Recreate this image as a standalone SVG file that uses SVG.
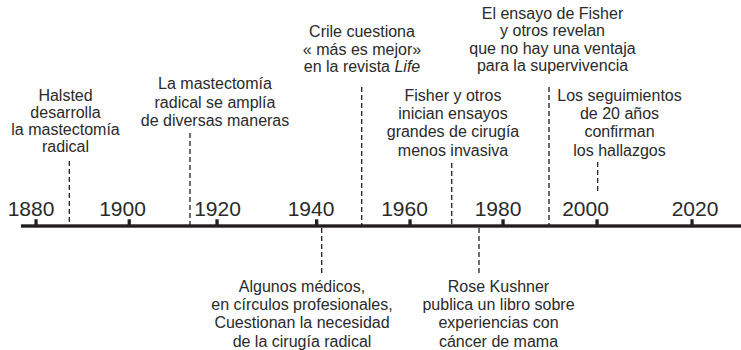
<svg xmlns="http://www.w3.org/2000/svg" width="741" height="350" viewBox="0 0 741 350">
<style>
  .lbl { font-family: "Liberation Sans", Arial, sans-serif; font-size: 16px; fill: #2a2a2a; text-anchor: middle; }
  .yr { font-family: "Liberation Sans", Arial, sans-serif; font-size: 21px; fill: #2a2a2a; text-anchor: middle; }
  .dash { stroke: #231f20; stroke-width: 1.3; stroke-dasharray: 5 3; fill: none; }
  .tick { fill: #231f20; }
</style>
<rect width="741" height="350" fill="#ffffff"/>

<g id="axis">
  <rect x="21" y="224.3" width="720" height="3.4" fill="#231f20"/>
  <rect class="tick" x="34.4" y="219.3" width="3.3" height="6"/>
  <rect class="tick" x="127.6" y="219.3" width="3.3" height="6"/>
  <rect class="tick" x="215.4" y="219.3" width="3.3" height="6"/>
  <rect class="tick" x="315" y="219.3" width="3.3" height="6"/>
  <rect class="tick" x="408.4" y="219.3" width="3.3" height="6"/>
  <rect class="tick" x="501.4" y="219.3" width="3.3" height="6"/>
  <rect class="tick" x="595.4" y="219.3" width="3.3" height="6"/>
  <rect class="tick" x="690.4" y="219.3" width="3.3" height="6"/>
  <text class="yr" x="31" y="216">1880</text>
  <text class="yr" x="122.5" y="216">1900</text>
  <text class="yr" x="217.5" y="216">1920</text>
  <text class="yr" x="311" y="216">1940</text>
  <text class="yr" x="404.5" y="216">1960</text>
  <text class="yr" x="498" y="216">1980</text>
  <text class="yr" x="585.5" y="216">2000</text>
  <text class="yr" x="695" y="216">2020</text>
</g>

<g id="connectors">
  <line class="dash" x1="69.3" y1="161" x2="69.3" y2="225"/>
  <line class="dash" x1="190" y1="133" x2="190" y2="225"/>
  <line class="dash" x1="361.7" y1="87" x2="361.7" y2="225"/>
  <line class="dash" x1="451.7" y1="163" x2="451.7" y2="225"/>
  <line class="dash" x1="549" y1="87" x2="549" y2="225"/>
  <line class="dash" x1="597.7" y1="162" x2="597.7" y2="193"/>
  <line class="dash" x1="321.7" y1="228" x2="321.7" y2="275"/>
  <line class="dash" x1="479" y1="228" x2="479" y2="273"/>
</g>

<g id="halsted">
  <text class="lbl" x="65.5" y="100.5">Halsted</text>
  <text class="lbl" x="65.5" y="117.5">desarrolla</text>
  <text class="lbl" x="65.5" y="134.5">la mastectomía</text>
  <text class="lbl" x="65.5" y="151.5">radical</text>
</g>

<g id="ampliacion">
  <text class="lbl" x="215" y="89">La mastectomía</text>
  <text class="lbl" x="215" y="107.5">radical se amplía</text>
  <text class="lbl" x="215" y="126">de diversas maneras</text>
</g>

<g id="crile">
  <text class="lbl" x="362" y="37">Crile cuestiona</text>
  <text class="lbl" x="362" y="54.7">« más es mejor»</text>
  <text class="lbl" x="362" y="72.2">en la revista <tspan font-style="italic">Life</tspan></text>
</g>

<g id="fisher-ensayo">
  <text class="lbl" x="552.5" y="19">El ensayo de Fisher</text>
  <text class="lbl" x="552.5" y="36.3">y otros revelan</text>
  <text class="lbl" x="552.5" y="53.6">que no hay una ventaja</text>
  <text class="lbl" x="552.5" y="70.9">para la supervivencia</text>
</g>

<g id="fisher-inician">
  <text class="lbl" x="453" y="101">Fisher y otros</text>
  <text class="lbl" x="453" y="119.2">inician ensayos</text>
  <text class="lbl" x="453" y="137.4">grandes de cirugía</text>
  <text class="lbl" x="453" y="155.6">menos invasiva</text>
</g>

<g id="seguimientos">
  <text class="lbl" x="619.5" y="101">Los seguimientos</text>
  <text class="lbl" x="619.5" y="119.2">de 20 años</text>
  <text class="lbl" x="619.5" y="137.4">confirman</text>
  <text class="lbl" x="619.5" y="155.6">los hallazgos</text>
</g>

<g id="algunos">
  <text class="lbl" x="302" y="291.7">Algunos médicos,</text>
  <text class="lbl" x="302" y="310">en círculos profesionales,</text>
  <text class="lbl" x="302" y="328.3">Cuestionan la necesidad</text>
  <text class="lbl" x="302" y="346.6">de la cirugía radical</text>
</g>

<g id="kushner">
  <text class="lbl" x="498.5" y="291.7">Rose Kushner</text>
  <text class="lbl" x="498.5" y="310">publica un libro sobre</text>
  <text class="lbl" x="498.5" y="328.3">experiencias con</text>
  <text class="lbl" x="498.5" y="346.6">cáncer de mama</text>
</g>
</svg>
